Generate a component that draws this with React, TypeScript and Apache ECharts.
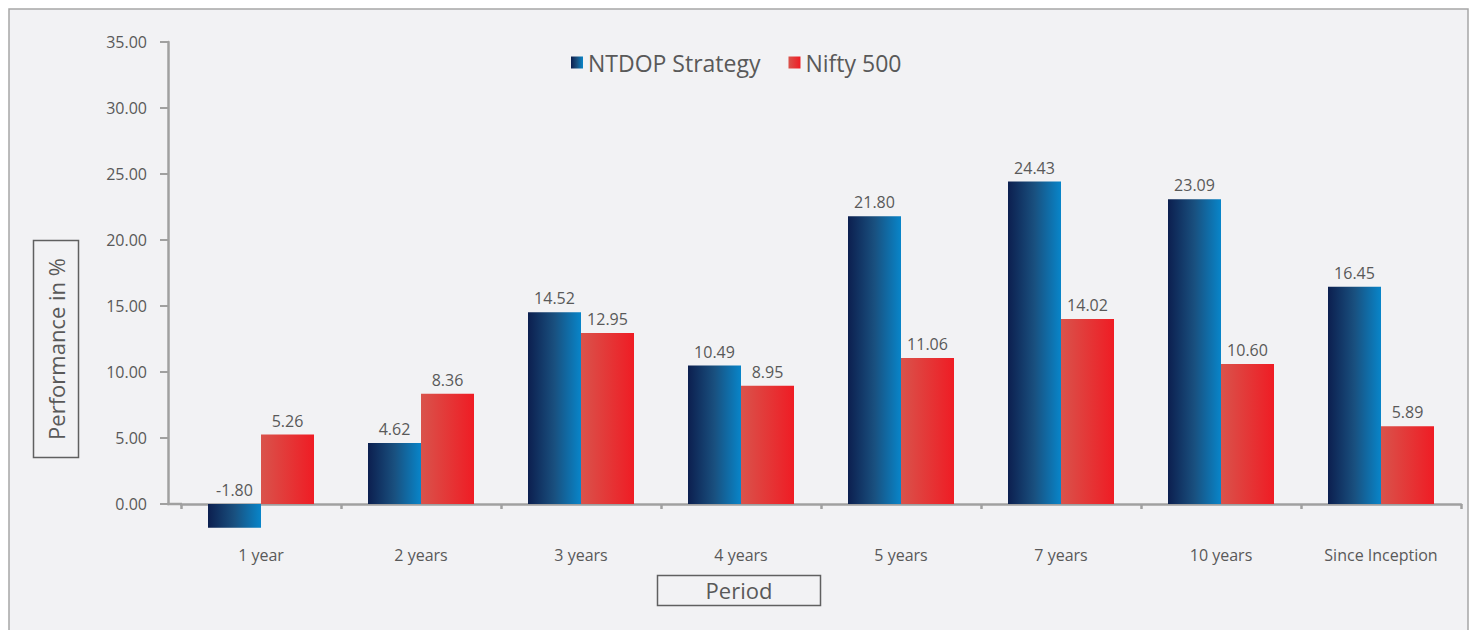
import React, { useEffect, useRef } from "react";
import * as echarts from "echarts";

const categories = ["1 year", "2 years", "3 years", "4 years", "5 years", "7 years", "10 years", "Since Inception"];
const ntdopValues = [-1.8, 4.62, 14.52, 10.49, 21.8, 24.43, 23.09, 16.45];
const niftyValues = [5.26, 8.36, 12.95, 8.95, 11.06, 14.02, 10.6, 5.89];
const seriesNames = ["NTDOP Strategy", "Nifty 500"];
const yTitle = "Performance in %";
const xTitle = "Period";

const FONT = "'Open Sans', 'Noto Sans', sans-serif";
const TXT = "#595959";
const AXIS = "#a0a0a0";

export default function App() {
  const ref = useRef<HTMLDivElement>(null);
  useEffect(() => {
    if (!ref.current) return;
    const chart = echarts.init(ref.current, null, { renderer: "svg" });
    const blue = new echarts.graphic.LinearGradient(0, 0, 1, 0, [
      { offset: 0, color: "#0c1f4f" },
      { offset: 0.5, color: "#19507f" },
      { offset: 1, color: "#0885c9" },
    ]);
    const red = new echarts.graphic.LinearGradient(0, 0, 1, 0, [
      { offset: 0, color: "#d9534b" },
      { offset: 1, color: "#ef1c24" },
    ]);
    const label = {
      show: true,
      position: "top",
      distance: 6,
      fontSize: 16,
      fontFamily: FONT,
      color: TXT,
      formatter: (p: any) => Number(p.value).toFixed(2),
    };
    chart.setOption({
      animation: false,
      backgroundColor: "#ffffff",
      textStyle: { fontFamily: FONT },
      graphic: [
        {
          type: "rect",
          z: -100,
          shape: { x: 9, y: 9, width: 1459, height: 700 },
          style: { fill: "#f2f2f4", stroke: "#a6a6a6", lineWidth: 1.5 },
          silent: true,
        },
        {
          type: "line",
          shape: { x1: 167, y1: 504, x2: 182, y2: 504 },
          style: { stroke: AXIS, lineWidth: 2.5 },
          silent: true,
        },
        {
          type: "rect",
          shape: { x: 33.5, y: 240.5, width: 45, height: 217 },
          style: { fill: "none", stroke: "#606060", lineWidth: 1.5 },
          silent: true,
        },
        {
          type: "text",
          x: 56,
          y: 349,
          rotation: Math.PI / 2,
          style: {
            text: yTitle,
            fontSize: 22,
            fontFamily: FONT,
            fill: TXT,
            align: "center",
            verticalAlign: "middle",
          },
          silent: true,
        },
        {
          type: "rect",
          shape: { x: 657.5, y: 575.5, width: 163, height: 30 },
          style: { fill: "none", stroke: "#606060", lineWidth: 1.5 },
          silent: true,
        },
        {
          type: "text",
          x: 739,
          y: 590,
          style: {
            text: xTitle,
            fontSize: 22,
            fontFamily: FONT,
            fill: TXT,
            align: "center",
            verticalAlign: "middle",
          },
          silent: true,
        },
      ],
      legend: {
        left: 571,
        top: 51,
        padding: 0,
        itemWidth: 12,
        itemHeight: 12,
        itemGap: 28,
        icon: "rect",
        textStyle: { fontSize: 23, fontFamily: FONT, color: TXT },
        data: seriesNames,
      },
      grid: { left: 181, right: 11, top: 42, bottom: 126, containLabel: false },
      xAxis: {
        type: "category",
        data: categories,
        axisLine: { show: true, lineStyle: { color: AXIS, width: 2.5 } },
        axisTick: { show: true, length: 5, lineStyle: { color: AXIS, width: 2.5 } },
        axisLabel: { margin: 43, fontSize: 16, fontFamily: FONT, color: TXT, interval: 0 },
        splitLine: { show: false },
      },
      yAxis: {
        type: "value",
        min: 0,
        max: 35,
        interval: 5,
        offset: 13,
        axisLine: { show: true, lineStyle: { color: AXIS, width: 2.5 } },
        axisTick: { show: true, length: 8, lineStyle: { color: AXIS, width: 2 } },
        axisLabel: {
          margin: 21,
          fontSize: 16,
          fontFamily: FONT,
          color: TXT,
          formatter: (v: number) => v.toFixed(2),
        },
        splitLine: { show: false },
      },
      series: [
        {
          name: seriesNames[0],
          type: "bar",
          data: ntdopValues,
          barWidth: 53,
          barGap: "0%",
          clip: false,
          itemStyle: { color: blue },
          label,
        },
        {
          name: seriesNames[1],
          type: "bar",
          data: niftyValues,
          barWidth: 53,
          barGap: "0%",
          clip: false,
          itemStyle: { color: red },
          label,
        },
      ],
    });
    return () => chart.dispose();
  }, []);
  return (
    <div
      ref={ref}
      style={{ position: "fixed", left: 0, top: 0, width: 1472, height: 630 }}
    />
  );
}
